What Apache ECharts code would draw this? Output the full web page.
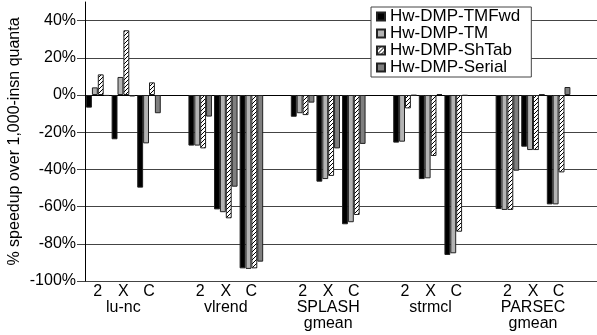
<!DOCTYPE html>
<html><head><meta charset="utf-8">
<script src="https://cdn.jsdelivr.net/npm/echarts@6/dist/echarts.min.js"></script>
<style>html,body{margin:0;padding:0;background:#fff}#c{width:597px;height:335px}</style>
</head><body><div id="c"></div>
<script>
const groups = ['lu-nc', 'vlrend', 'SPLASH\ngmean', 'strmcl', 'PARSEC\ngmean'];
const subLabels = ['2', 'X', 'C'];
const seriesNames = ['Hw-DMP-TMFwd', 'Hw-DMP-TM', 'Hw-DMP-ShTab', 'Hw-DMP-Serial'];
const tmfwd  = [-6.8, -23.8, -49.8,  -27.2, -61.5, -93.2,  -11.7, -46.6, -69.5,  -25.6, -45.2, -86.0,  -61.3, -27.8, -58.8];
const tm     = [4.1, 9.7, -26.0,     -27.2, -63.0, -93.5,  -9.8, -45.2, -68.4,   -25.1, -44.8, -85.1,  -61.8, -29.6, -58.8];
const shtab  = [11.1, 34.8, 6.8,     -28.7, -66.3, -93.2,  -10.8, -43.5, -64.5,  -7.2, -32.8, -73.5,   -61.8, -29.6, -41.6];
const serial = [-0.5, -0.8, -9.8,    -11.6, -49.3, -89.6,  -4.1, -28.7, -26.3,   -0.3, 0.5, -0.4,      -40.7, 0.3, 4.3];
const yTicks = [-100, -80, -60, -40, -20, 0, 20, 40];

const cats = [];
function expand(arr){
  const out = [];
  groups.forEach((g, gi) => {
    subLabels.forEach((s, si) => out.push(arr[gi*3+si]));
    out.push(null);
  });
  return out;
}
groups.forEach((g) => {
  subLabels.forEach((s, si) => cats.push(si === 1 ? s + '\n' + g : s));
  cats.push('');
});

function hatch(){
  const c = document.createElement('canvas');
  c.width = 4; c.height = 4;
  const g = c.getContext('2d');
  g.fillStyle = '#fff'; g.fillRect(0,0,4,4);
  g.strokeStyle = '#000'; g.lineWidth = 1;
  g.beginPath();
  g.moveTo(-1,5); g.lineTo(5,-1);
  g.moveTo(-3,3); g.lineTo(3,-3);
  g.moveTo(1,7); g.lineTo(7,1);
  g.stroke();
  return c;
}
const colors = ['#000000', '#b3b3b3', {image: hatch(), repeat: 'repeat'}, '#7f7f7f'];
const dataArr = [tmfwd, tm, shtab, serial];
const font = 'Liberation Sans, Arial, sans-serif';

const chart = echarts.init(document.getElementById('c'), null, {renderer: 'canvas'});
chart.setOption({
  animation: false,
  backgroundColor: '#fff',
  textStyle: {fontFamily: font},
  grid: {left: 85, right: 0, top: 2, bottom: 54, outerBoundsMode: 'none', containLabel: false},
  legend: {
    left: 371, top: 7, orient: 'vertical',
    backgroundColor: '#fff', borderColor: '#444', borderWidth: 1,
    padding: [1, 11, 1, 5], itemGap: 0,
    itemWidth: 8, itemHeight: 8, icon: 'rect',
    textStyle: {fontFamily: font, fontSize: 17, color: '#000', lineHeight: 17},
    data: seriesNames
  },
  xAxis: {
    type: 'category', data: cats,
    axisLine: {lineStyle: {color: '#000', width: 1}},
    axisTick: {show: false},
    axisLabel: {interval: 0, fontFamily: font, fontSize: 16, color: '#000', lineHeight: 16, margin: 3}
  },
  yAxis: {
    type: 'value', min: -100, max: 50, interval: 20,
    name: '% speedup over 1,000-insn quanta', nameLocation: 'middle', nameGap: 62,
    nameMoveOverlap: false,
    nameTextStyle: {fontFamily: font, fontSize: 16, color: '#000'},
    axisLine: {show: true, lineStyle: {color: '#000', width: 1}},
    axisTick: {show: true, length: 8, lineStyle: {color: '#444'}},
    axisLabel: {fontFamily: font, fontSize: 16, color: '#000', margin: 9, showMaxLabel: false,
      formatter: v => yTicks.indexOf(v) >= 0 ? v + '%' : ''},
    splitLine: {show: true, showMaxLine: false, lineStyle: {color: '#444', width: 1}}
  },
  series: seriesNames.map((n, i) => ({
    name: n, type: 'bar',
    data: expand(dataArr[i]),
    barGap: '0%', barCategoryGap: '8%',
    itemStyle: {color: colors[i], borderColor: '#222', borderWidth: 1},
    z: 3
  }))
});
</script></body></html>
